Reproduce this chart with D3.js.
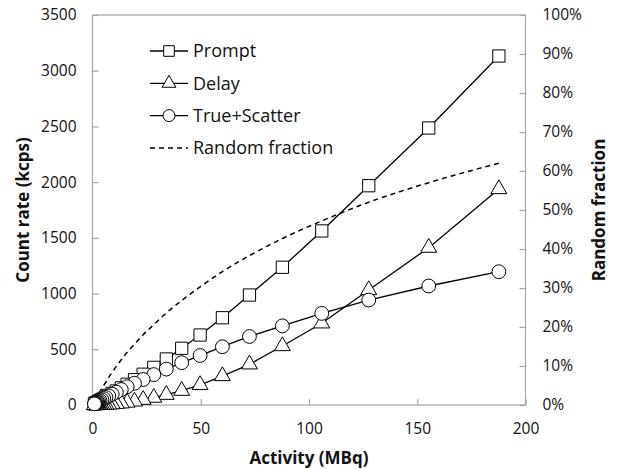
<!DOCTYPE html>
<meta charset="utf-8">
<title>Count rate vs activity</title>
<style>
    body { margin: 0; background: #fff; }
    text { font-family: "Open Sans", "Liberation Sans", sans-serif; fill: #111; }
    .tick text { font-size: 15.5px; }
    .title { font-size: 17px; font-weight: bold; }
    .legend text { font-size: 18px; }
</style>

<svg width="618" height="469"></svg>
<script src="https://cdnjs.cloudflare.com/ajax/libs/d3/7.8.5/d3.min.js"></script>
<script>

// activity (MBq) for each measurement
var activity = [187.7, 155.3, 127.6, 105.9, 87.7, 72.5, 60.0, 49.7, 41.2, 34.1,
    28.3, 23.4, 19.4, 16.0, 13.3, 11.0, 9.1, 7.5, 6.2, 5.2,
    4.3, 3.5, 2.9, 2.4, 2.0, 1.6, 1.4, 1.1, 0.9];

// count rates (kcps)
var prompt = [3132, 2486, 1968, 1562, 1236, 987, 783, 628, 509, 413,
    338, 276, 227, 186, 154, 126, 104, 86, 71, 59,
    49, 40, 33, 27, 23, 18, 16, 12.5, 10];
var delay = [1938, 1412, 1032, 733, 529, 365, 260, 180, 128, 92,
    66, 47, 32, 22, 15, 11, 7.3, 5.2, 3.5, 2.4,
    1.7, 1.2, 0.8, 0.5, 0.4, 0.25, 0.2, 0.12, 0.08];
var trueScatter = [1196, 1068, 942, 822, 710, 615, 523, 444, 380, 322,
    273, 229, 195, 164, 139, 115, 97, 81, 67, 57,
    47, 39, 32, 26.5, 22.6, 17.8, 15.8, 12.4, 9.9];

// random fraction (right axis)
var randomFraction = [0.620, 0.570, 0.520, 0.472, 0.427, 0.383, 0.342, 0.303, 0.268, 0.236,
    0.206, 0.180, 0.156, 0.135, 0.116, 0.099, 0.084, 0.071, 0.059, 0.050,
    0.042, 0.035, 0.029, 0.024, 0.020, 0.016, 0.014, 0.011, 0.009];

var xTicks = [0, 50, 100, 150, 200];
var yTicks = [0, 500, 1000, 1500, 2000, 2500, 3000, 3500];
var y2Ticks = [0, 0.1, 0.2, 0.3, 0.4, 0.5, 0.6, 0.7, 0.8, 0.9, 1.0];

var seriesNames = ["Prompt", "Delay", "True+Scatter", "Random fraction"];

var svg = d3.select("svg"),
    plotL = 92.5, plotR = 525.5, plotT = 15, plotB = 405;

var x = d3.scaleLinear().domain([0, 200]).range([plotL, plotR]);
var y = d3.scaleLinear().domain([0, 3500]).range([plotB, plotT]);
var y2 = d3.scaleLinear().domain([0, 1]).range([plotB, plotT]);

// frame
svg.append("rect")
    .attr("x", plotL).attr("y", plotT)
    .attr("width", plotR - plotL).attr("height", plotB - plotT)
    .attr("fill", "none").attr("stroke", "#a6a6a6").attr("stroke-width", 1.2);

function styleAxis(g) {
    g.select(".domain").remove();
    g.selectAll(".tick line").attr("stroke", "#a6a6a6").attr("stroke-width", 1.2);
}

svg.append("g")
    .attr("transform", "translate(0," + plotB + ")")
    .call(d3.axisBottom(x).tickValues(xTicks).tickSize(-6).tickPadding(18))
    .call(styleAxis);

svg.append("g")
    .attr("transform", "translate(" + plotL + ",0)")
    .call(d3.axisLeft(y).tickValues(yTicks).tickSize(-6).tickPadding(16)
        .tickFormat(d3.format("d")))
    .call(styleAxis);

svg.append("g")
    .attr("transform", "translate(" + plotR + ",0)")
    .call(d3.axisRight(y2).tickValues(y2Ticks).tickSize(-6).tickPadding(17)
        .tickFormat(d3.format(".0%")))
    .call(styleAxis);

svg.selectAll(".tick text").attr("fill", "#111").style("font-family", "'Open Sans', sans-serif");

// titles
svg.append("text").attr("class", "title")
    .attr("x", (plotL + plotR) / 2).attr("y", 464)
    .attr("text-anchor", "middle").text("Activity (MBq)");
svg.append("text").attr("class", "title")
    .attr("transform", "translate(29," + (plotT + plotB) / 2 + ") rotate(-90)")
    .attr("text-anchor", "middle").text("Count rate (kcps)");
svg.append("text").attr("class", "title")
    .attr("transform", "translate(605," + (plotT + plotB) / 2 + ") rotate(-90)")
    .attr("text-anchor", "middle").text("Random fraction");

// random fraction dashed line
var fracLine = d3.line()
    .x(function(d, i) { return x(activity[i]); })
    .y(function(d) { return y2(d); })
    .curve(d3.curveMonotoneX);

svg.append("path")
    .datum(randomFraction)
    .attr("d", fracLine)
    .attr("fill", "none").attr("stroke", "#000")
    .attr("stroke-width", 1.5).attr("stroke-dasharray", "5,4");

var rateLine = d3.line()
    .x(function(d, i) { return x(activity[i]); })
    .y(function(d) { return y(d); });

var symbols = [d3.symbolSquare, d3.symbolTriangle, d3.symbolCircle];
var symbolSizes = [150, 110, 150];
var rates = [prompt, delay, trueScatter];

rates.forEach(function(vals, k) {
    svg.append("path")
        .datum(vals)
        .attr("d", rateLine)
        .attr("fill", "none").attr("stroke", "#000").attr("stroke-width", 1.3);

    svg.append("g").selectAll("path")
        .data(vals)
        .enter().append("path")
            .attr("transform", function(d, i) {
                return "translate(" + x(activity[i]) + "," + y(d) + ")";
            })
            .attr("d", d3.symbol().type(symbols[k]).size(symbolSizes[k]))
            .attr("fill", "#fff").attr("stroke", "#000").attr("stroke-width", 1);
});

// legend
var legend = svg.append("g").attr("class", "legend");
seriesNames.forEach(function(name, k) {
    var ly = 51 + k * 32.3;
    var row = legend.append("g").attr("transform", "translate(150," + ly + ")");
    if (k < 3) {
        row.append("line").attr("x1", 0).attr("x2", 38)
            .attr("stroke", "#000").attr("stroke-width", 1.3);
        row.append("path")
            .attr("transform", "translate(19,0)")
            .attr("d", d3.symbol().type(symbols[k]).size(symbolSizes[k] * 0.75))
            .attr("fill", "#fff").attr("stroke", "#000");
    } else {
        row.append("line").attr("x1", 0).attr("x2", 38)
            .attr("stroke", "#000").attr("stroke-width", 1.5)
            .attr("stroke-dasharray", "5,4");
    }
    row.append("text").attr("x", 43).attr("dy", "0.35em").text(name);
});

</script>
